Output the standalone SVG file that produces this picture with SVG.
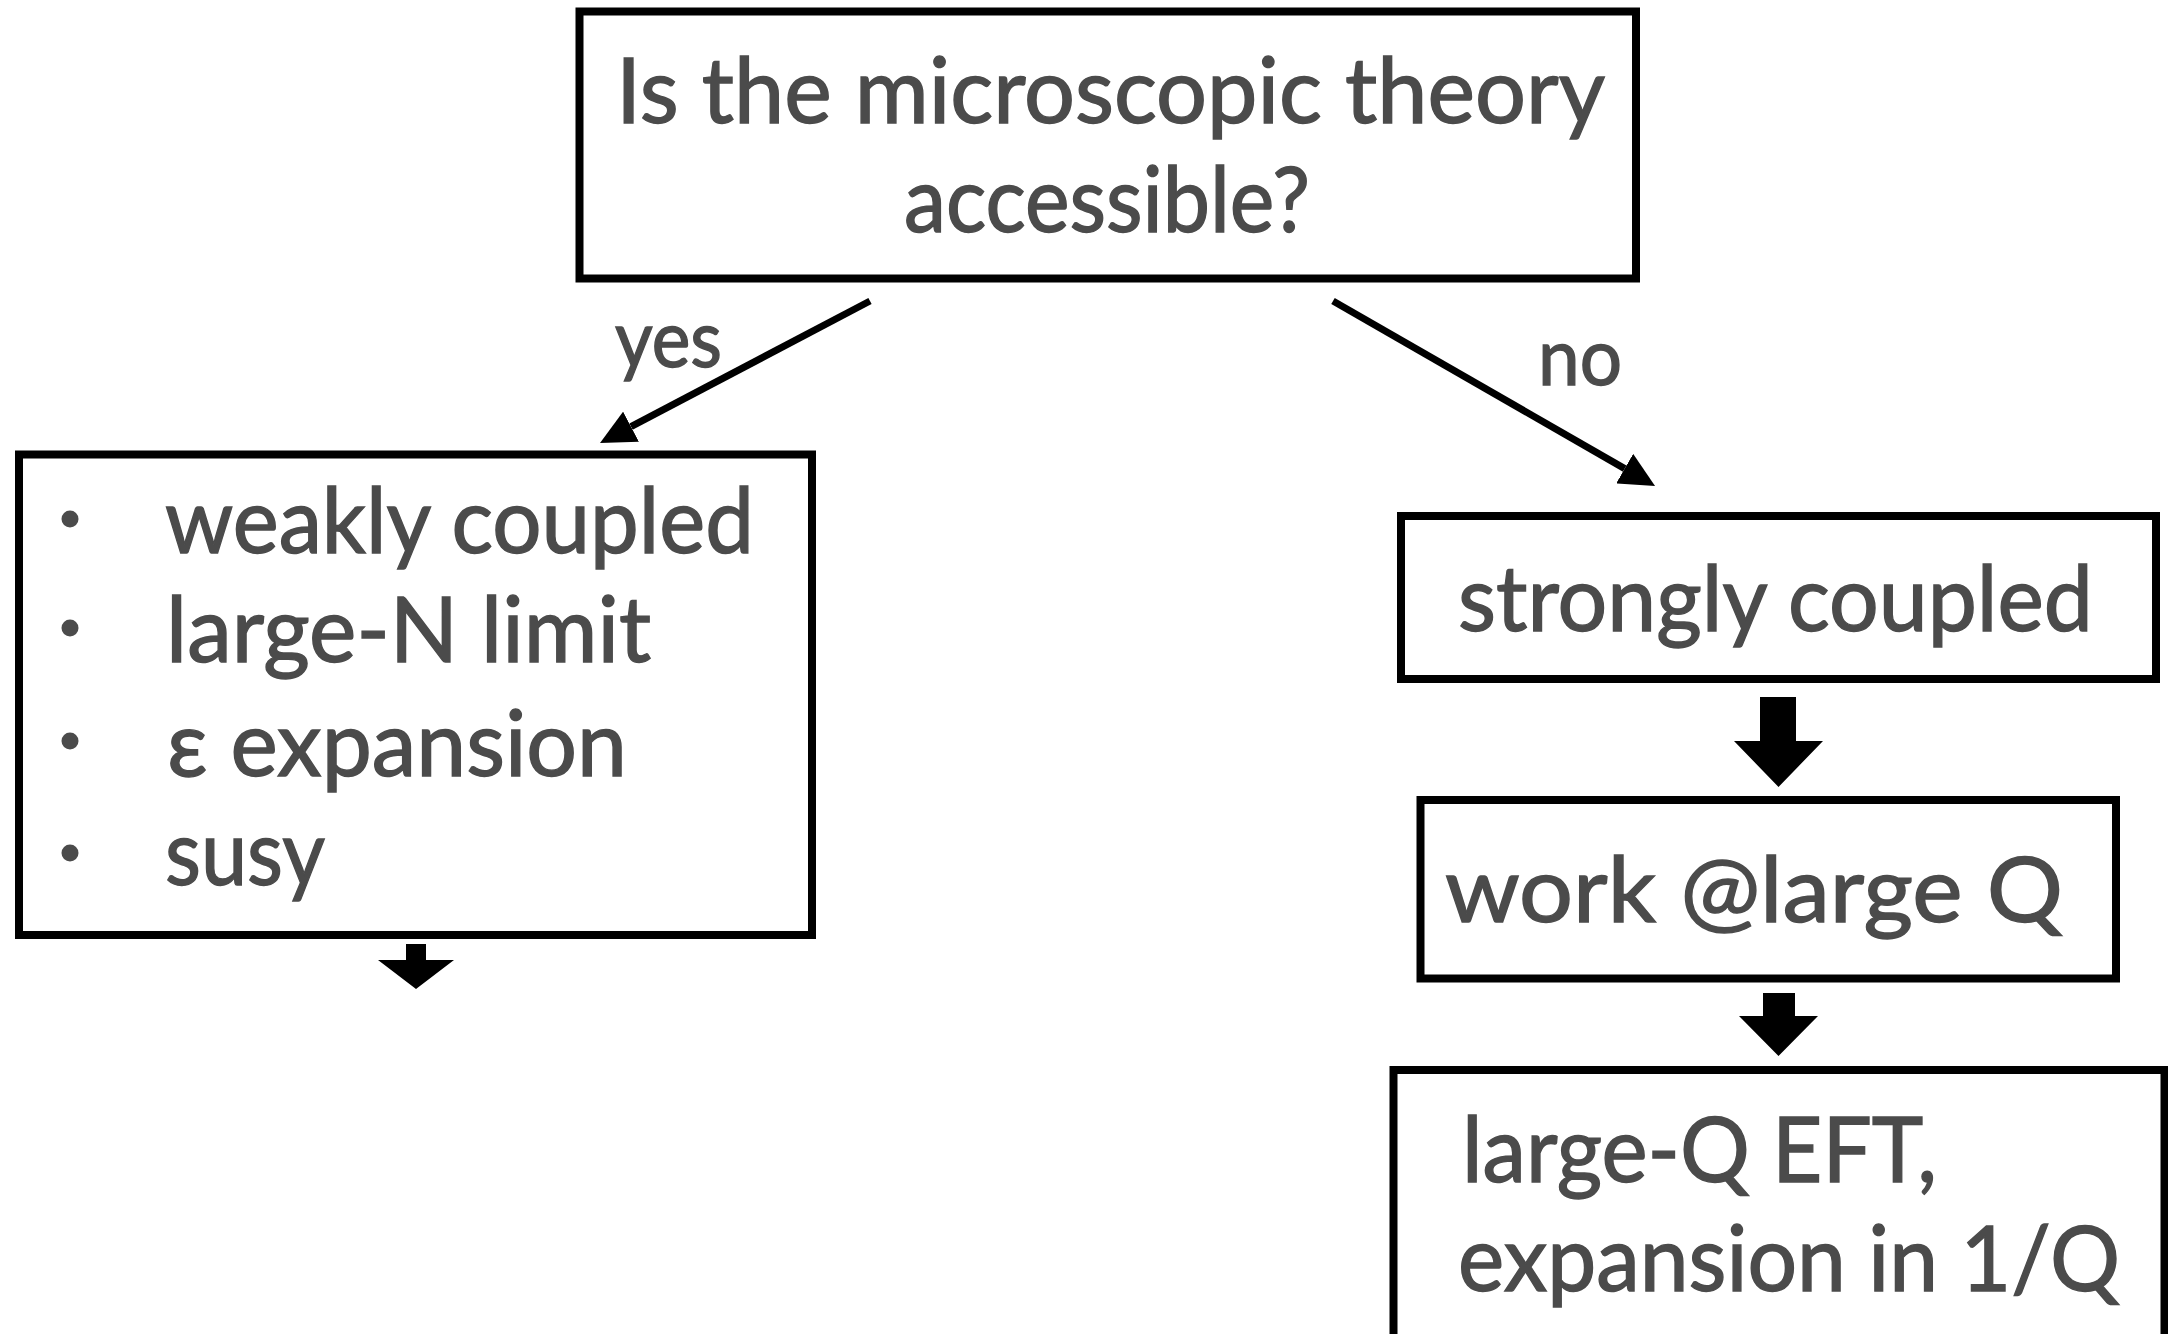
<svg xmlns="http://www.w3.org/2000/svg" width="2168" height="1334" viewBox="0 0 2168 1334">
  <style>
    .box { fill: #ffffff; stroke: #000000; stroke-width: 8; }
    .t { font-family: Lato, "Open Sans", "Liberation Sans", sans-serif; font-size: 92px; fill: #4b4b4b; stroke: #4b4b4b; stroke-width: 1.4; }
    .lbl { font-size: 80px; }
    .bullet { fill: #4b4b4b; }
    .conn { stroke: #000000; stroke-width: 7; fill: none; stroke-linecap: butt; marker-end: url(#head); }
    .block { fill: #000000; }
  </style>
  <defs>
    <marker id="head" markerUnits="userSpaceOnUse" viewBox="0 -17 35 34" markerWidth="35" markerHeight="34" refX="0" refY="0" orient="auto">
      <path d="M0,-17 L35,0 L0,17 z" fill="#000000"/>
    </marker>
  </defs>

  <rect x="0" y="0" width="2168" height="1334" fill="#ffffff"/>

  <!-- decision question -->
  <g id="question">
    <rect class="box" x="579.5" y="11.5" width="1056.5" height="267"/>
    <text class="t" x="616" y="123" textLength="989" lengthAdjust="spacingAndGlyphs">Is the microscopic theory</text>
    <text class="t" x="904" y="232" textLength="406" lengthAdjust="spacingAndGlyphs">accessible?</text>
  </g>

  <!-- "yes" branch: list of methods -->
  <g id="methods">
    <rect class="box" x="19" y="454.5" width="793" height="480.5"/>
    <circle class="bullet" cx="70" cy="519" r="8.5"/>
    <circle class="bullet" cx="70" cy="628" r="8.5"/>
    <circle class="bullet" cx="70" cy="741" r="8.5"/>
    <circle class="bullet" cx="70" cy="853" r="8.5"/>
    <text class="t" x="165" y="553" textLength="589" lengthAdjust="spacingAndGlyphs">weakly coupled</text>
    <text class="t" x="166" y="662" textLength="485" lengthAdjust="spacingAndGlyphs">large-N limit</text>
    <text class="t" x="167" y="776" textLength="460" lengthAdjust="spacingAndGlyphs">ε expansion</text>
    <text class="t" x="165" y="885" textLength="160" lengthAdjust="spacingAndGlyphs">susy</text>
  </g>

  <!-- "no" branch -->
  <g id="strong">
    <rect class="box" x="1401" y="516" width="755" height="163"/>
    <text class="t" x="1458" y="631" textLength="635" lengthAdjust="spacingAndGlyphs">strongly coupled</text>
  </g>

  <g id="largeQ">
    <rect class="box" x="1420.5" y="800" width="695.5" height="178.5"/>
    <text class="t" x="1445" y="922" textLength="618" lengthAdjust="spacingAndGlyphs">work @large Q</text>
  </g>

  <g id="eft">
    <rect class="box" x="1393.5" y="1070" width="771" height="300"/>
    <text class="t" x="1462" y="1182" textLength="475" lengthAdjust="spacingAndGlyphs">large-Q EFT,</text>
    <text class="t" x="1458" y="1291" textLength="662" lengthAdjust="spacingAndGlyphs">expansion in 1/Q</text>
  </g>

  <!-- connectors -->
  <g id="connectors">
    <line class="conn" x1="870" y1="301" x2="631" y2="426.7"/>
    <text class="t lbl" x="615" y="367" textLength="107" lengthAdjust="spacingAndGlyphs">yes</text>
    <line class="conn" x1="1333" y1="301" x2="1624.7" y2="468.6"/>
    <text class="t lbl" x="1538" y="385" textLength="84" lengthAdjust="spacingAndGlyphs">no</text>
    <polygon class="block" points="406,944 426,944 426,960 454,960 416,989 378,960 406,960"/>
    <polygon class="block" points="1760,697 1796,697 1796,741 1823,741 1778.5,787 1734,741 1760,741"/>
    <polygon class="block" points="1763,993 1795,993 1795,1016 1818,1016 1778.5,1056 1739,1016 1763,1016"/>
  </g>
</svg>
